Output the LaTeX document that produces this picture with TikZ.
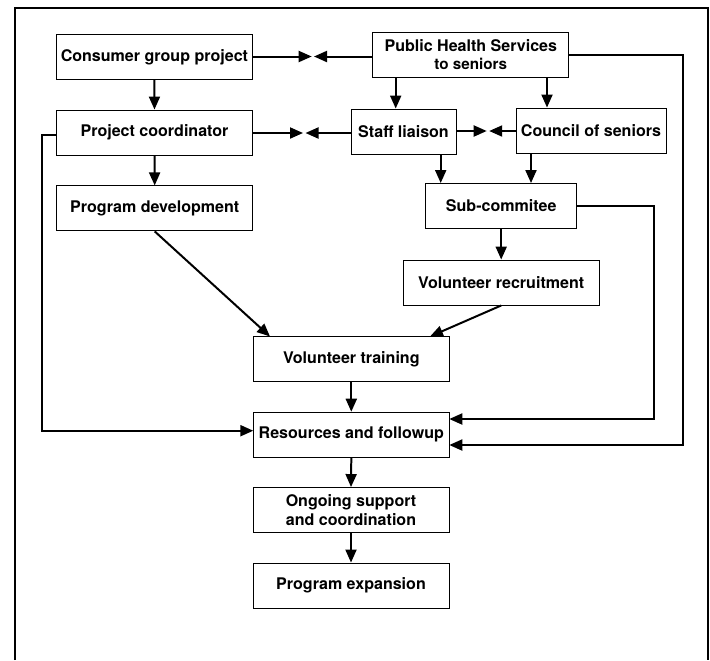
\documentclass[tikz,border=0pt]{standalone}
\usepackage{fontspec}
\setmainfont{TeX Gyre Heros}
\usetikzlibrary{arrows.meta,calc}
\begin{document}
\begin{tikzpicture}[x=0.03cm,y=-0.03cm,
  box/.style={draw,line width=0.8pt,rectangle,inner sep=0pt,minimum height=1.35cm,minimum width=5.88cm,align=center,font=\fontsize{13.7pt}{15.6pt}\selectfont\bfseries},
  arr/.style={line width=1.7pt,-{Triangle[length=3.9mm,width=3.3mm]}},
  frame/.style={line width=2pt}]
\useasboundingbox (0,0) rectangle (710,660);
% frame (open at the bottom)
\draw[frame] (15,660) -- (15,8) -- (708,8) -- (708,660);
% boxes
\node[box] (cgp) at (154.4,57) {Consumer group project};
\node[box] (phs) at (470.8,54.6) {Public Health Services\\{\fontsize{13pt}{14pt}\selectfont to seniors}};
\node[box] (pc) at (154.5,132.5) {Project coordinator};
\node[box,minimum width=3.15cm] (sl) at (403.5,131.5) {Staff liaison};
\node[box,minimum width=4.5cm] (cs) at (591,130.5) {Council of seniors};
\node[box] (pd) at (154.7,208.4) {Program development};
\node[box,minimum width=4.53cm] (sub) at (501.2,206) {Sub-commitee};
\node[box] (vr) at (501.2,282.5) {Volunteer recruitment};
\node[box] (vt) at (351.3,359) {Volunteer training};
\node[box] (rf) at (351.3,434.7) {Resources and followup};
\node[box] (og) at (351,510) {Ongoing support\\and coordination};
\node[box] (pe) at (351,585.5) {Program expansion};
% meeting points of the double arrows
\coordinate (m1a) at (311.7,56.5);
\coordinate (m1b) at (314,56.5);
\coordinate (m2a) at (303,133);
\coordinate (m2b) at (305.5,133);
\coordinate (m3a) at (486.7,131);
\coordinate (m3b) at (489.2,131);
\draw[arr] (cgp.east |- m1a) -- (m1a);
\draw[arr] (phs.west |- m1b) -- (m1b);
\draw[arr] (pc.east |- m2a) -- (m2a);
\draw[arr] (sl.west |- m2b) -- (m2b);
\draw[arr] (sl.east |- m3a) -- (m3a);
\draw[arr] (cs.west |- m3b) -- (m3b);
% vertical arrows
\coordinate (xa) at (395.7,0);
\coordinate (xb) at (547,0);
\coordinate (xc) at (440.7,0);
\coordinate (xd) at (531,0);
\draw[arr] (phs.south -| xa) -- (sl.north -| xa);
\draw[arr] (phs.south -| xb) -- (cs.north -| xb);
\draw[arr] (sl.south -| xc) -- (sub.north -| xc);
\draw[arr] (cs.south -| xd) -- (sub.north -| xd);
\draw[arr] (cgp.south) -- (pc.north);
\draw[arr] (pc.south) -- (pd.north);
\draw[arr] (sub.south) -- (vr.north);
\draw[arr] (vt.south) -- (rf.north);
\draw[arr] (rf.south) -- (og.north);
\draw[arr] (og.south) -- (pe.north);
% diagonal arrows
\coordinate (t1) at (270,336.5);
\coordinate (t2) at (430,336.5);
\draw[arr] (pd.south) -- (t1);
\draw[arr] (vr.south) -- (t2);
% side routes into Resources and followup
\coordinate (lx) at (41.7,0);
\coordinate (ly) at (0,135);
\coordinate (rfL) at (253.3,430.7);
\draw[arr] (pc.west |- ly) -| (lx |- rfL) -- (rfL);
\coordinate (sx) at (654,0);
\coordinate (rfR1) at (449.3,419);
\draw[arr] (sub.east) -| (sx |- rfR1) -- (rfR1);
\coordinate (px) at (683,0);
\coordinate (rfR2) at (449.3,445);
\draw[arr] (phs.east) -| (px |- rfR2) -- (rfR2);
\end{tikzpicture}
\end{document}
